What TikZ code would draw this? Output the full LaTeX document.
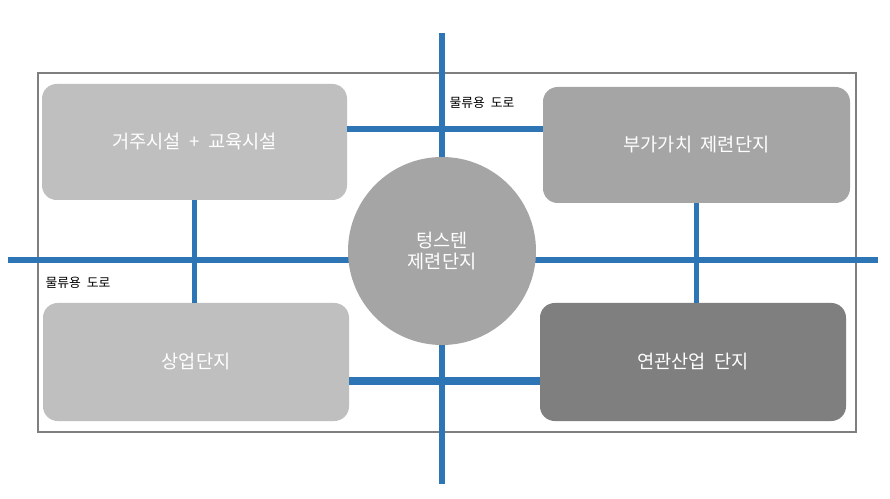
\documentclass[tikz,border=0pt]{standalone}
\usepackage{fontspec}
\setmainfont[WordSpace=2]{Noto Sans CJK KR}
\usetikzlibrary{calc}
\definecolor{roadblue}{HTML}{2E75B6}
\definecolor{lightbox}{HTML}{BFBFBF}
\definecolor{midbox}{HTML}{A5A5A5}
\definecolor{darkbox}{HTML}{7F7F7F}
\definecolor{framegray}{HTML}{7F7F7F}
\tikzset{
  zone/.style={rounded corners=11pt, inner sep=0pt, text=white, font=\fontsize{14pt}{16pt}\selectfont, align=center},
  road/.style={draw=roadblue, line width=4.5pt},
  thinroad/.style={draw=roadblue, line width=4.3pt},
  roadlabel/.style={font=\fontsize{9.6pt}{11pt}\selectfont, text=black, inner sep=0pt}
}
\begin{document}
\begin{tikzpicture}[x=0.75pt,y=-0.75pt]
\fill[white] (0,0) rectangle (890,499);
\useasboundingbox (0,0) rectangle (890,499);
% outer frame
\draw[framegray, line width=1.5pt] (37.5,73.5) rectangle (855.5,432);
% main roads
\coordinate (vt) at (442,33);
\coordinate (vb) at (442,484);
\coordinate (hl) at (8,260);
\coordinate (hr) at (878,260);
\draw[thinroad] (vt) -- (vb);
\draw[thinroad] (hl) -- (hr);
% zones
\node[zone, fill=lightbox, minimum width=228.75pt, minimum height=87pt] (tl) at (194.5,142) {거주시설 + 교육시설};
\node[zone, fill=midbox, minimum width=230.25pt, minimum height=87pt] (tr) at (696.5,145) {부가가치 제련단지};
\node[zone, fill=lightbox, minimum width=229.5pt, minimum height=88.5pt] (bl) at (196,362) {상업단지};
\node[zone, fill=darkbox, minimum width=229.5pt, minimum height=88.5pt] (br) at (693,362) {연관산업 단지};
\node[zone, circle, fill=midbox, minimum size=141pt, font=\fontsize{14pt}{15.8pt}\selectfont] (c) at (442,251) {텅스텐\\제련단지};
% connector roads
\coordinate (r1) at (0,129);
\coordinate (r2) at (0,381);
\draw[thinroad] (tl.east |- r1) -- (tr.west |- r1);
\draw[road, line width=6pt] (bl.east |- r2) -- (br.west |- r2);
\draw[thinroad] (tl.south) -- (tl.south |- bl.north);
\draw[thinroad] (tr.south) -- (tr.south |- br.north);
% labels
\node[roadlabel] (l1) at (482,103) {물류용 도로};
\node[roadlabel] (l2) at (78,283) {물류용 도로};
\end{tikzpicture}
\end{document}
